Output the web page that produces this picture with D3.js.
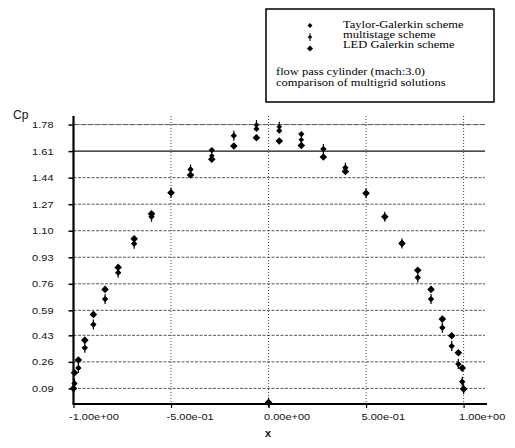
<!DOCTYPE html>
<html>
<head>
<meta charset="utf-8">
<script src="https://cdn.jsdelivr.net/npm/d3@7"></script>
<style>
  html, body { margin: 0; padding: 0; background: #fff; }
  svg { display: block; }
</style>
</head>
<body>
<svg id="chart" width="515" height="448"></svg>
<script>
// Surface stations (x) and pressure coefficient Cp for each scheme
const stationX = [-1.000, -0.995, -0.975, -0.942, -0.898, -0.838, -0.771, -0.689, -0.600, -0.500,
                  -0.400, -0.291, -0.178, -0.062, 0.000, 0.055, 0.168, 0.281, 0.394, 0.500,
                  0.596, 0.684, 0.765, 0.833, 0.891, 0.939, 0.973, 0.993, 1.000];
const cpTaylor = [0.090, 0.122, 0.221, 0.350, 0.499, 0.662, 0.831, 1.017, 1.190, 1.343,
                  1.493, 1.617, 1.709, 1.752, 0.000, 1.741, 1.719, 1.623, 1.504, 1.340,
                  1.190, 1.019, 0.800, 0.662, 0.479, 0.361, 0.246, 0.133, 0.086];
const cpMultistage = [0.090, 0.122, 0.221, 0.350, 0.499, 0.662, 0.831, 1.017, 1.190, 1.343,
                  1.493, 1.580, 1.709, 1.777, 0.000, 1.766, 1.683, 1.623, 1.504, 1.340,
                  1.190, 1.019, 0.800, 0.662, 0.479, 0.361, 0.246, 0.133, 0.086];
const cpLed = [0.090, 0.190, 0.272, 0.399, 0.563, 0.724, 0.865, 1.048, 1.208, 1.343,
                  1.457, 1.558, 1.643, 1.696, 0.000, 1.675, 1.646, 1.572, 1.480, 1.340,
                  1.190, 1.019, 0.847, 0.724, 0.534, 0.427, 0.318, 0.220, 0.086];

const yTickLabels = ["0.09", "0.26", "0.43", "0.59", "0.76", "0.93", "1.10", "1.27", "1.44", "1.61", "1.78"];
const xTickValues = [-1, -0.5, 0, 0.5, 1];
const xTickLabels = ["-1.00e+00", "-5.00e-01", "0.00e+00", "5.00e-01", "1.00e+00"];
const seriesNames = ["Taylor-Galerkin scheme", "multistage scheme", "LED Galerkin scheme"];
const noteLines = ["flow pass cylinder (mach:3.0)", "comparison of multigrid solutions"];

const svg = d3.select("#chart");
const x = d3.scaleLinear().domain([-1, 1.12]).range([73.5, 487]);
const y = d3.scaleLinear().domain([-0.01, 1.835]).range([404, 116]);
const yTickValues = yTickLabels.map(Number);

const sansFont = "'Liberation Sans', Arial, Helvetica, sans-serif";
const serifFont = "'Liberation Serif', 'Times New Roman', serif";

// grid
const grid = svg.append("g");
grid.selectAll("line.h").data(yTickValues).join("line")
  .attr("x1", x(-1)).attr("x2", 485)
  .attr("y1", d => y(d)).attr("y2", d => y(d))
  .attr("stroke", d => d === 1.61 ? "#111" : "#555")
  .attr("stroke-width", d => d === 1.61 ? 1.4 : 1)
  .attr("stroke-dasharray", d => d === 1.61 ? null : (d === 1.78 ? "6,1" : "3,1.5"));
grid.selectAll("line.v").data(xTickValues.slice(1)).join("line")
  .attr("x1", d => x(d)).attr("x2", d => x(d))
  .attr("y1", 116).attr("y2", 404)
  .attr("stroke", "#444").attr("stroke-width", 1)
  .attr("stroke-dasharray", "1,2");

// axes
const yAxis = svg.append("g").attr("transform", `translate(${x(-1)},0)`)
  .call(d3.axisLeft(y).tickValues(yTickValues).tickFormat((d, i) => yTickLabels[i])
        .tickSize(5).tickSizeOuter(0).tickPadding(15));
yAxis.select(".domain").attr("stroke", "#000").attr("stroke-width", 2.2).attr("d", `M0,116V404`);
yAxis.selectAll(".tick line").attr("stroke", "#000").attr("stroke-width", 1.5);
yAxis.selectAll(".tick text")
  .attr("fill", "#111").style("font-family", sansFont).style("font-size", "11px")
  .attr("transform", "scale(1,0.88)");

const xAxis = svg.append("g").attr("transform", `translate(0,${y(-0.01)})`)
  .call(d3.axisBottom(x).tickValues(xTickValues).tickFormat((d, i) => xTickLabels[i])
        .tickSize(4).tickSizeOuter(0));
xAxis.select(".domain").attr("stroke", "#000").attr("stroke-width", 2.2).attr("d", `M${x(-1) - 1},0H487`);
xAxis.selectAll(".tick line").attr("stroke", "#000").attr("stroke-width", 1.2);
xAxis.selectAll(".tick text")
  .attr("fill", "#111").style("font-family", sansFont).style("font-size", "11px")
  .attr("text-anchor", "start").attr("x", -5).attr("y", 0).attr("dy", 0)
  .attr("transform", "translate(0,16) scale(1,0.88)");

// axis titles
svg.append("text").attr("x", 13).attr("y", 119).text("Cp")
  .style("font-family", sansFont).style("font-size", "12px").attr("fill", "#111");
svg.append("text").attr("x", 268).attr("y", 437).attr("text-anchor", "middle").text("x")
  .style("font-family", sansFont).style("font-size", "11px").style("font-weight", "bold").attr("fill", "#111");

// marker shapes
function diamond(r) { return `M0,${-r}L${r},0L0,${r}L${-r},0Z`; }
const markerPaths = [
  diamond(3.1),
  diamond(2.8) + "M-0.6,-5H0.6V5H-0.6Z",
  diamond(3.8)
];

const seriesValues = [cpTaylor, cpMultistage, cpLed];
const marks = svg.append("g");
seriesValues.forEach((vals, s) => {
  marks.append("g").selectAll("path").data(vals).join("path")
    .attr("d", markerPaths[s])
    .attr("transform", (d, i) => `translate(${x(stationX[i])},${y(d)})`)
    .attr("fill", "#000");
});

// legend box
const lg = svg.append("g");
lg.append("rect").attr("x", 266).attr("y", 9).attr("width", 228).attr("height", 93)
  .attr("fill", "#fff").attr("stroke", "#000").attr("stroke-width", 1.5);
seriesNames.forEach((name, i) => {
  lg.append("path").attr("d", markerPaths[i]).attr("fill", "#000")
    .attr("transform", `translate(310,${25.5 + i * 11.5}) scale(0.8)`);
  lg.append("text").text(name)
    .attr("transform", `translate(343,${28 + i * 10}) scale(1,0.75)`)
    .style("font-family", serifFont).style("font-size", "12.5px").attr("fill", "#000");
});
noteLines.forEach((t, i) => {
  lg.append("text").text(t)
    .attr("transform", `translate(276,${75 + i * 10.5}) scale(1,0.75)`)
    .style("font-family", serifFont).style("font-size", "12.5px").attr("fill", "#000");
});
</script>
</body>
</html>
